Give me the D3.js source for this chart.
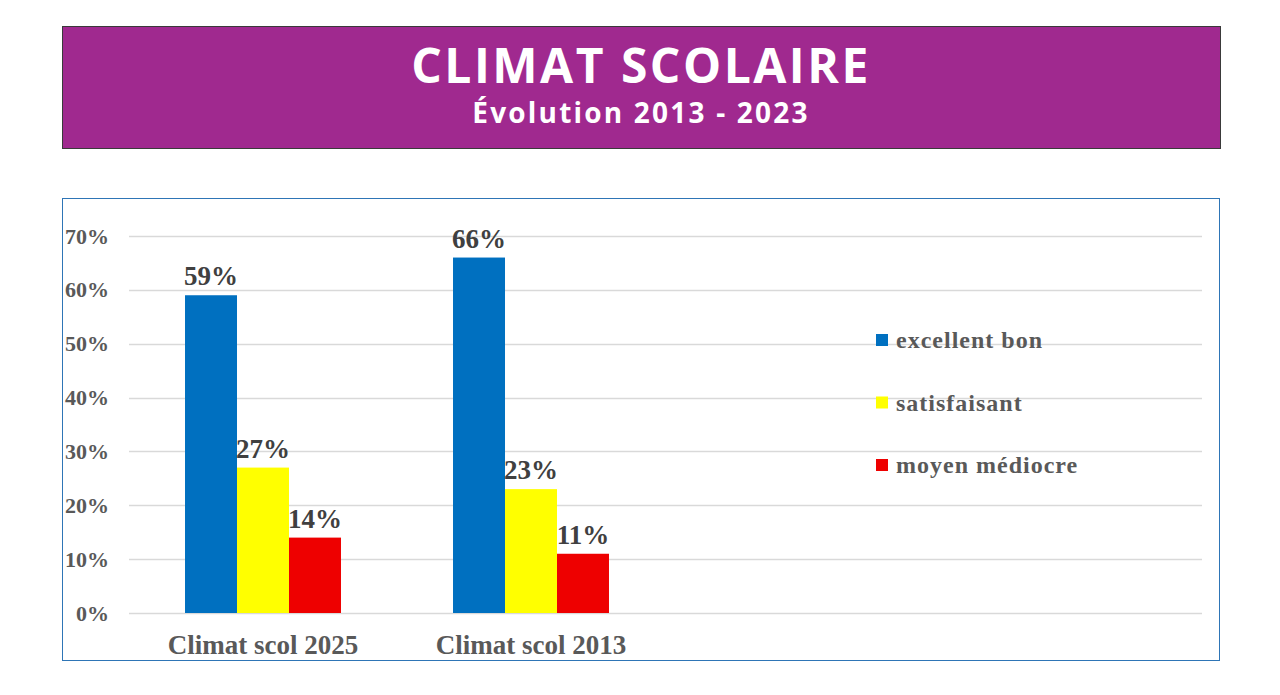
<!DOCTYPE html>
<html>
<head>
<meta charset="utf-8">
<script src="https://cdn.jsdelivr.net/npm/d3@7"></script>
<style>
  body { margin: 0; background: #fff; }
  svg { display: block; }
</style>
</head>
<body>
<div id="chart"></div>
<script>
// chart values
const categories = ["Climat scol 2025", "Climat scol 2013"];
const seriesNames = ["excellent bon", "satisfaisant", "moyen médiocre"];
const seriesColors = ["#0070C0", "#FFFF00", "#EE0000"];
const excellentBon = [0.59, 0.66];
const satisfaisant = [0.27, 0.23];
const moyenMediocre = [0.14, 0.11];
const yTicks = [0, 0.1, 0.2, 0.3, 0.4, 0.5, 0.6, 0.7];
const titleText = "CLIMAT SCOLAIRE";
const subtitleText = "Évolution 2013 - 2023";

const seriesValues = [excellentBon, satisfaisant, moyenMediocre];

const W = 1280, H = 695;
const svg = d3.select("#chart").append("svg")
  .attr("width", W)
  .attr("height", H);

// title banner
svg.append("rect")
  .attr("x", 62.5).attr("y", 26.5)
  .attr("width", 1158).attr("height", 122)
  .attr("fill", "#A0298F")
  .attr("stroke", "#3a3a3a")
  .attr("stroke-width", 1);

svg.append("text")
  .attr("x", 641).attr("y", 83)
  .attr("text-anchor", "middle")
  .attr("fill", "#fff")
  .style("font-family", "'Open Sans', sans-serif")
  .style("font-weight", 700)
  .style("font-size", "48px")
  .style("letter-spacing", "2.5px")
  .text(titleText);

svg.append("text")
  .attr("x", 641).attr("y", 123)
  .attr("text-anchor", "middle")
  .attr("fill", "#fff")
  .style("font-family", "'Open Sans', sans-serif")
  .style("font-weight", 700)
  .style("font-size", "28px")
  .style("letter-spacing", "2.2px")
  .text(subtitleText);

// chart frame
svg.append("rect")
  .attr("x", 62.5).attr("y", 198.5)
  .attr("width", 1157).attr("height", 462)
  .attr("fill", "#fff")
  .attr("stroke", "#2E75B6")
  .attr("stroke-width", 1);

const plot = { left: 129, right: 1202, top: 236, bottom: 613 };
const serif = "'Liberation Serif', 'Times New Roman', serif";

const y = d3.scaleLinear()
  .domain([0, 0.7])
  .range([plot.bottom, plot.top]);

const x0 = d3.scaleBand()
  .domain(categories)
  .range([plot.left, plot.left + 536])
  .paddingInner(0.418)
  .paddingOuter(0.209);

const x1 = d3.scaleBand()
  .domain(seriesNames)
  .range([0, x0.bandwidth()]);

// gridlines
svg.append("g")
  .selectAll("line")
  .data(yTicks)
  .join("line")
  .attr("x1", plot.left)
  .attr("x2", plot.right)
  .attr("y1", d => Math.round(y(d)) + 0.5)
  .attr("y2", d => Math.round(y(d)) + 0.5)
  .attr("stroke", "#d9d9d9")
  .attr("stroke-width", 1.3);

// y axis labels
const yAxis = d3.axisLeft(y)
  .tickValues(yTicks)
  .tickFormat(d3.format(".0%"))
  .tickSize(0)
  .tickPadding(0);

const yg = svg.append("g")
  .attr("transform", "translate(109,0)")
  .call(yAxis);
yg.select(".domain").remove();
yg.selectAll("text")
  .attr("fill", "#595959")
  .style("font-family", serif)
  .style("font-weight", 700)
  .style("font-size", "22px");

// bars
const groups = svg.append("g")
  .selectAll("g")
  .data(categories)
  .join("g")
  .attr("transform", d => "translate(" + x0(d) + ",0)");

groups.selectAll("rect")
  .data((c, ci) => seriesNames.map((s, si) => ({ s: s, si: si, v: seriesValues[si][ci] })))
  .join("rect")
  .attr("x", d => x1(d.s))
  .attr("width", x1.bandwidth())
  .attr("y", d => y(d.v))
  .attr("height", d => y(0) - y(d.v))
  .attr("fill", d => seriesColors[d.si]);

groups.selectAll("text")
  .data((c, ci) => seriesNames.map((s, si) => ({ s: s, si: si, v: seriesValues[si][ci] })))
  .join("text")
  .attr("x", d => x1(d.s) + x1.bandwidth() / 2)
  .attr("y", d => y(d.v) - 10)
  .attr("text-anchor", "middle")
  .attr("fill", "#404040")
  .style("font-family", serif)
  .style("font-weight", 700)
  .style("font-size", "27px")
  .text(d => d3.format(".0%")(d.v));

// category labels
const xAxis = d3.axisBottom(x0).tickSize(0).tickPadding(0);
const xg = svg.append("g")
  .attr("transform", "translate(0,654)")
  .call(xAxis);
xg.select(".domain").remove();
xg.selectAll("text")
  .attr("dy", "0")
  .attr("fill", "#595959")
  .style("font-family", serif)
  .style("font-weight", 700)
  .style("font-size", "27px");

// legend
const legend = svg.append("g")
  .selectAll("g")
  .data(seriesNames)
  .join("g")
  .attr("transform", (d, i) => "translate(876," + (340 + i * 62.5) + ")");

legend.append("rect")
  .attr("x", 0).attr("y", -6)
  .attr("width", 12).attr("height", 12)
  .attr("fill", (d, i) => seriesColors[i]);

legend.append("text")
  .attr("x", 20).attr("y", 0)
  .attr("dy", "0.35em")
  .attr("fill", "#595959")
  .style("font-family", serif)
  .style("font-weight", 700)
  .style("font-size", "24px")
  .style("letter-spacing", "1px")
  .text(d => d);
</script>
</body>
</html>
